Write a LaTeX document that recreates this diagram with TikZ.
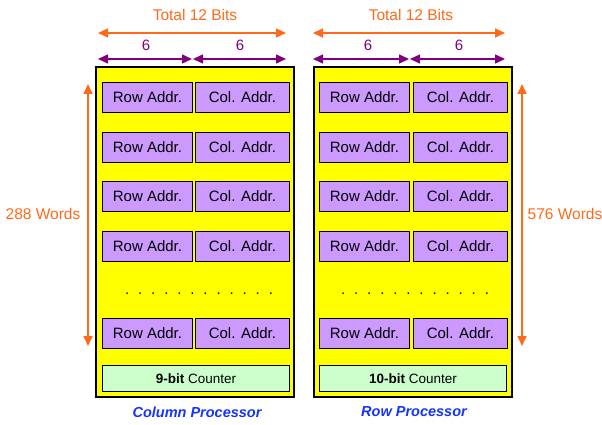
\documentclass[tikz,border=0pt]{standalone}
\usepackage{fontspec}
\setmainfont{Liberation Sans}
\usetikzlibrary{arrows.meta}
\definecolor{yel}{HTML}{FFFF00}
\definecolor{addr}{HTML}{CC99FF}
\definecolor{cnt}{HTML}{CCFFCC}
\definecolor{org}{HTML}{FF6A1A}
\definecolor{pur}{HTML}{800080}
\definecolor{blu}{HTML}{1433FF}
\tikzset{
  proc/.style={draw=black,line width=2.2pt,fill=yel,minimum width=198pt,minimum height=330pt,anchor=north west,inner sep=0pt},
  shadowbox/.style={fill=gray!70,minimum width=198pt,minimum height=330pt,anchor=north west,inner sep=0pt},
  rowbox/.style={draw=black,line width=0.9pt,fill=addr,minimum width=90pt,minimum height=30pt,anchor=north west,inner sep=0pt,font=\fontsize{15}{17}\selectfont},
  colbox/.style={draw=black,line width=0.9pt,fill=addr,minimum width=94pt,minimum height=30pt,anchor=north west,inner sep=0pt,font=\fontsize{15}{17}\selectfont},
  cntbox/.style={draw=black,line width=0.9pt,fill=cnt,minimum width=187pt,minimum height=26pt,anchor=north west,inner sep=0pt,font=\fontsize{13.5}{15}\selectfont},
  dots/.style={font=\fontsize{15}{17}\selectfont},
  orgarrow/.style={draw=org,line width=1.4pt,{Triangle[length=10pt,width=9pt]}-{Triangle[length=10pt,width=9pt]}},
  purarrow/.style={draw=pur,line width=1.4pt,{Triangle[length=10pt,width=9pt]}-{Triangle[length=10pt,width=9pt]}},
  orgtext/.style={text=org,font=\fontsize{15.5}{17}\selectfont},
  purtext/.style={text=pur,font=\fontsize{15}{17}\selectfont},
  ptitle/.style={text=blu,font=\fontsize{14.5}{16}\selectfont\bfseries\itshape},
}
\begin{document}
\begin{tikzpicture}[x=1pt,y=-1pt]
\useasboundingbox (0,0) rectangle (602,425);
% shadows and processor boxes
\node[shadowbox] (lsh) at (97,68) {};
\node[shadowbox] (rsh) at (315,68) {};
\node[proc] (lp) at (95,66) {};
\node[proc] (rp) at (313,66) {};
% rows
\foreach \i/\y in {1/82,2/132,3/181,4/231,5/318}{
  \node[rowbox] (lr\i) at (102,\y) {Row Addr.};
  \node[colbox] (lc\i) at (195,\y) {Col. Addr.};
  \node[rowbox] (rr\i) at (319,\y) {Row Addr.};
  \node[colbox] (rc\i) at (413,\y) {Col. Addr.};
}
\node[dots] (ldots) at (199,294) {.\hspace{8.9pt}.\hspace{8.9pt}.\hspace{8.9pt}.\hspace{8.9pt}.\hspace{8.9pt}.\hspace{8.9pt}.\hspace{8.9pt}.\hspace{8.9pt}.\hspace{8.9pt}.\hspace{8.9pt}.\hspace{8.9pt}.};
\node[dots] (rdots) at (415,294) {.\hspace{8.9pt}.\hspace{8.9pt}.\hspace{8.9pt}.\hspace{8.9pt}.\hspace{8.9pt}.\hspace{8.9pt}.\hspace{8.9pt}.\hspace{8.9pt}.\hspace{8.9pt}.\hspace{8.9pt}.\hspace{8.9pt}.};
\node[cntbox] (lcnt) at (102,365) {\textbf{9-bit} Counter};
\node[cntbox] (rcnt) at (319,365) {\textbf{10-bit} Counter};
% titles
\node[ptitle] (ltitle) at (197,412) {Column Processor};
\node[ptitle] (rtitle) at (414,412) {Row Processor};
% top arrows
\coordinate (lt1) at (98,33); \coordinate (lt2) at (286,33);
\coordinate (rt1) at (313,33); \coordinate (rt2) at (505,33);
\draw[orgarrow] (lt1) -- (lt2);
\draw[orgarrow] (rt1) -- (rt2);
\node[orgtext] (ltot) at (195,15) {Total 12 Bits};
\node[orgtext] (rtot) at (411,15) {Total 12 Bits};
\coordinate (la1) at (98,59); \coordinate (la2) at (192,59);
\coordinate (la3) at (193,59); \coordinate (la4) at (286,59);
\coordinate (ra1) at (313,59); \coordinate (ra2) at (409,59);
\coordinate (ra3) at (410,59); \coordinate (ra4) at (505,59);
\draw[purarrow] (la1) -- (la2);
\draw[purarrow] (la3) -- (la4);
\draw[purarrow] (ra1) -- (ra2);
\draw[purarrow] (ra3) -- (ra4);
\node[purtext] (l6a) at (146,45) {6};
\node[purtext] (l6b) at (240,45) {6};
\node[purtext] (r6a) at (368,45) {6};
\node[purtext] (r6b) at (459,45) {6};
% vertical arrows
\coordinate (lv1) at (88,84); \coordinate (lv2) at (88,346);
\coordinate (rv1) at (522,84); \coordinate (rv2) at (522,346);
\draw[orgarrow] (lv1) -- (lv2);
\draw[orgarrow] (rv1) -- (rv2);
\node[orgtext] (lwords) at (43,214) {288 Words};
\node[orgtext] (rwords) at (565,214) {576 Words};
\end{tikzpicture}
\end{document}
